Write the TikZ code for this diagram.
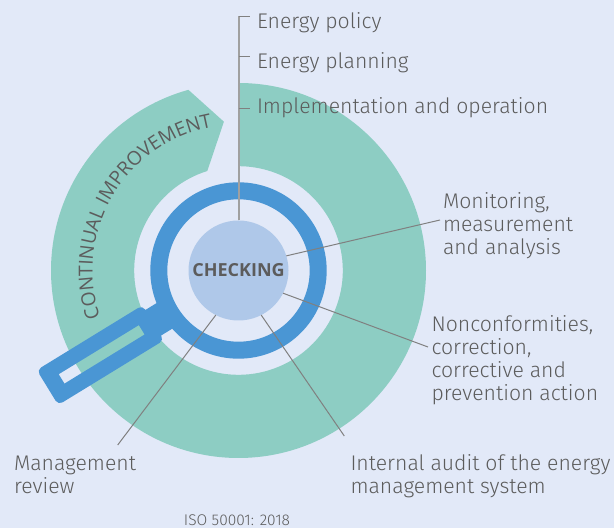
\documentclass[tikz,border=0pt]{standalone}
\usepackage{fontspec}
\setmainfont{Fira Sans Light}
\newfontfamily\capfont{Open Sans}
\usetikzlibrary{decorations.text}
\definecolor{pagebg}{HTML}{E2E9F8}
\definecolor{tealband}{HTML}{8DCDC3}
\definecolor{lensblue}{HTML}{4A96D4}
\definecolor{hubblue}{HTML}{AFC8E9}
\definecolor{inkgray}{HTML}{5C5C5C}
\definecolor{leadgray}{HTML}{808080}
\tikzset{
  item/.style={inner sep=0pt,outer sep=0pt,anchor=north west,align=left,text=inkgray,
    font=\fontsize{21.2}{23}\selectfont},
  lead/.style={draw=leadgray,line width=1pt},
  stem/.style={draw=leadgray!75,line width=2pt}
}
\begin{document}
\begin{tikzpicture}[x=1pt,y=1pt]
\useasboundingbox (0,0) rectangle (614,528);
\fill[pagebg] (0,0) rectangle (614,528);

\coordinate (c) at (238.5,257.5);

% band with arrow head
\begin{scope}[shift={(c)}]
\fill[tealband] (90:187.5) arc[start angle=90,end angle=-254.5,radius=187.5]
  -- (95.6:149.5) -- (107.4:104.3) arc[start angle=107.4,end angle=450,radius=104.3] -- cycle;
\path[decorate,decoration={text along path,text align=center,
  text={|\capfont\fontsize{19.3}{19.3}\selectfont\color{inkgray}|CONTINUAL IMPROVEMENT}}]
  (198.5:146) arc[start angle=198.5,end angle=100.5,radius=146];
\end{scope}

% magnifier
\draw[lensblue,line width=17pt] (c) circle[radius=79.7];
\begin{scope}[shift={(c)},rotate=211.5]
\fill[lensblue] (85,-15) rectangle (110,15);
\fill[lensblue,even odd rule,rounded corners=5pt] (100,-20.5) rectangle (224,20.5)
  [sharp corners] (113.5,-5.5) rectangle (207.5,5.5);
\end{scope}

\node[circle,fill=hubblue,minimum size=100pt,inner sep=0pt,outer sep=0pt,text=inkgray,
  font=\capfont\bfseries\fontsize{18}{18}\selectfont] (hub) at (c) {CHECKING};

\node[item] (policy) at (257,528-12.5) {Energy policy};
\node[item] (planning) at (257,528-52.5) {Energy planning};
\node[item] (implement) at (257,528-97.5) {Implementation and operation};
\node[item] (monitor) at (443,528-192.5) {Monitoring,\\measurement\\and analysis};
\node[item] (nonconf) at (431.5,528-315.5) {Nonconformities,\\correction,\\corrective and\\prevention action};
\node[item] (audit) at (350.5,528-455) {Internal audit of the energy\\management system};
\node[item] (review) at (14,528-455.5) {Management\\review};
\node[inner sep=0pt,text=inkgray,font=\fontsize{15.5}{15.5}\selectfont] (iso) at (237,7.5) {ISO 50001: 2018};

\coordinate (top) at (238.5,511.5);
\coordinate (tick1) at (250,511.5);
\coordinate (mid2) at (238.5,471.5);
\coordinate (tick2) at (250,471.5);
\coordinate (mid3) at (238.5,419);
\coordinate (tick3) at (250,419);
\coordinate (endmon) at (440,308);
\coordinate (endnon) at (428,181);
\coordinate (endaud) at (344.3,92);
\coordinate (endrev) at (117.7,83);

\draw[stem] (hub.90) -- (top);
\draw[lead] (top) -- (tick1);
\draw[lead] (mid2) -- (tick2);
\draw[lead] (mid3) -- (tick3);
\draw[lead] (hub.17.8) -- (endmon);
\draw[lead] (hub.-27) -- (endnon);
\draw[lead] (hub.-63.7) -- (endaud);
\draw[lead] (hub.243) -- (endrev);
\end{tikzpicture}
\end{document}
